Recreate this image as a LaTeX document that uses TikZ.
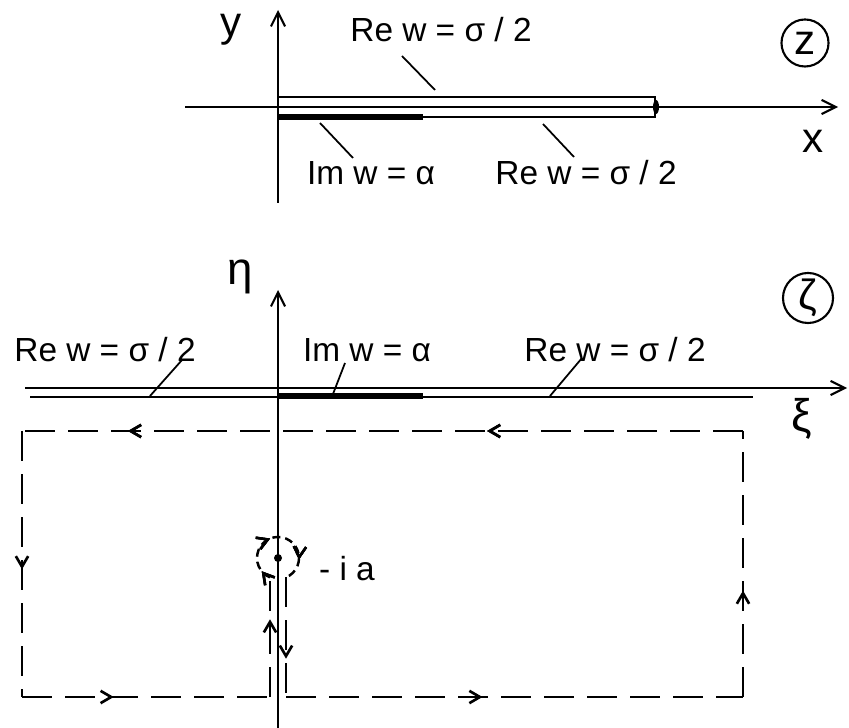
\documentclass[tikz,border=0pt]{standalone}
\usepackage{fontspec}
\setmainfont{Liberation Sans}
\usetikzlibrary{arrows.meta, decorations.markings}

\begin{document}
\begin{tikzpicture}[
  x=0.01cm, y=-0.01cm,
  >={Straight Barb[length=4pt, width=4pt]},
  lbl/.style={font=\fontsize{9.5}{11}\selectfont, inner sep=0pt, anchor=base},
  axlbl/.style={font=\fontsize{12}{14}\selectfont, inner sep=0pt, anchor=base},
  plane/.style={circle, draw, line width=0.6pt, inner sep=0pt, minimum size=0.47cm, font=\fontsize{12}{14}\selectfont},
  axis/.style={line width=0.6pt},
  cut/.style={line width=0.6pt},
  heavy/.style={line width=1.6pt},
  lead/.style={line width=0.5pt},
  contour/.style={line width=0.75pt, dash pattern=on 0.3cm off 0.13cm},
  loop/.style={line width=0.7pt, dash pattern=on 0.08cm off 0.05cm},
  flow/.style={decoration={markings, mark=at position #1 with {\pgfsetdash{}{0pt}\arrow{Straight Barb[length=3pt, width=3.5pt]}}}, postaction={decorate}}
]
  \useasboundingbox (0,0) rectangle (849,728);

  % z-plane
  \coordinate (xL) at (185,107);
  \coordinate (xR) at (838,107);
  \coordinate (yB) at (278,203);
  \coordinate (yT) at (278,10);
  \draw[axis,->] (xL) -- (xR);
  \draw[axis,->] (yB) -- (yT);

  \coordinate (s1) at (278,97);
  \coordinate (s2) at (655,97);
  \coordinate (s3) at (655,117);
  \coordinate (s4) at (278,117);
  \coordinate (s5) at (423,117);
  \coordinate (sEnd) at (656,107);
  \draw[cut] (s1) -- (s2) -- (s3) -- (s4);
  \draw[heavy] (s4) -- (s5);
  \fill (sEnd) ellipse [x radius=3, y radius=7];

  \node[axlbl] (ylbl) at (231,37) {y};
  \node[axlbl] (xlbl) at (813,153) {x};
  \node[plane] (zp) at (805,43) {z};

  \node[lbl] (reA) at (441,42) {Re w = σ / 2};
  \node[lbl] (imA) at (371,185) {Im w =  α};
  \node[lbl] (reB) at (586,185) {Re w = σ / 2};

  \coordinate (lA1) at (402,56);
  \coordinate (lA2) at (435,90);
  \coordinate (lB1) at (320,123);
  \coordinate (lB2) at (353,158);
  \coordinate (lC1) at (543,124);
  \coordinate (lC2) at (574,157);
  \draw[lead] (lA1) -- (lA2);
  \draw[lead] (lB1) -- (lB2);
  \draw[lead] (lC1) -- (lC2);

  % zeta-plane
  \coordinate (xiL) at (25,388);
  \coordinate (xiR) at (847,388);
  \coordinate (etaB) at (278,728);
  \coordinate (etaT) at (278,290);
  \draw[axis,->] (xiL) -- (xiR);
  \draw[axis,->] (etaB) -- (etaT);

  \coordinate (c1) at (30,397);
  \coordinate (c2) at (753,397);
  \coordinate (c3) at (278,396);
  \coordinate (c4) at (423,396);
  \draw[cut] (c1) -- (c2);
  \draw[heavy] (c3) -- (c4);

  \node[axlbl, font=\fontsize{13}{15}\selectfont] (eta) at (240,285) {η};
  \node[axlbl, font=\fontsize{13}{15}\selectfont] (xi) at (802,432) {ξ};
  \node[plane, minimum size=0.5cm] (zetap) at (808,298) {ζ};

  \node[lbl] (reL) at (105,362) {Re w = σ / 2};
  \node[lbl] (imC) at (367,362) {Im w =  α};
  \node[lbl] (reR) at (615,362) {Re w = σ / 2};

  \coordinate (lD1) at (150,396);
  \coordinate (lD2) at (182,360);
  \coordinate (lE1) at (333,394);
  \coordinate (lE2) at (345,363);
  \coordinate (lF1) at (550,396);
  \coordinate (lF2) at (582,358);
  \draw[lead] (lD1) -- (lD2);
  \draw[lead] (lE1) -- (lE2);
  \draw[lead] (lF1) -- (lF2);

  % contour
  \coordinate (TL) at (22,431);
  \coordinate (BL) at (22,697);
  \coordinate (BR) at (743,697);
  \coordinate (TR) at (743,431);
  \coordinate (kLb) at (270,697);
  \coordinate (kLt) at (270,577.4);
  \coordinate (kRt) at (286,577.4);
  \coordinate (kRb) at (286,697);
  \coordinate (pole) at (278,558);

  \draw[contour, flow=0.355, flow=0.853] (TR) -- (TL);
  \draw[contour, flow=0.52] (TL) -- (BL);
  \draw[contour, flow=0.37] (BL) -- (kLb);
  \draw[contour, flow=0.65] (kLb) -- (kLt);
  \draw[loop, flow=0.09, flow=0.43, flow=0.8] (kLt) arc[start angle=112.4, end angle=427.6, radius=21];
  \draw[contour, flow=0.68] (kRt) -- (kRb);
  \draw[contour, flow=0.43] (kRb) -- (BR);
  \draw[contour, flow=0.4] (BR) -- (TR);

  \fill (pole) circle [radius=4];
  \node[lbl] (pole lbl) at (347,580) {- i a};
\end{tikzpicture}
\end{document}
